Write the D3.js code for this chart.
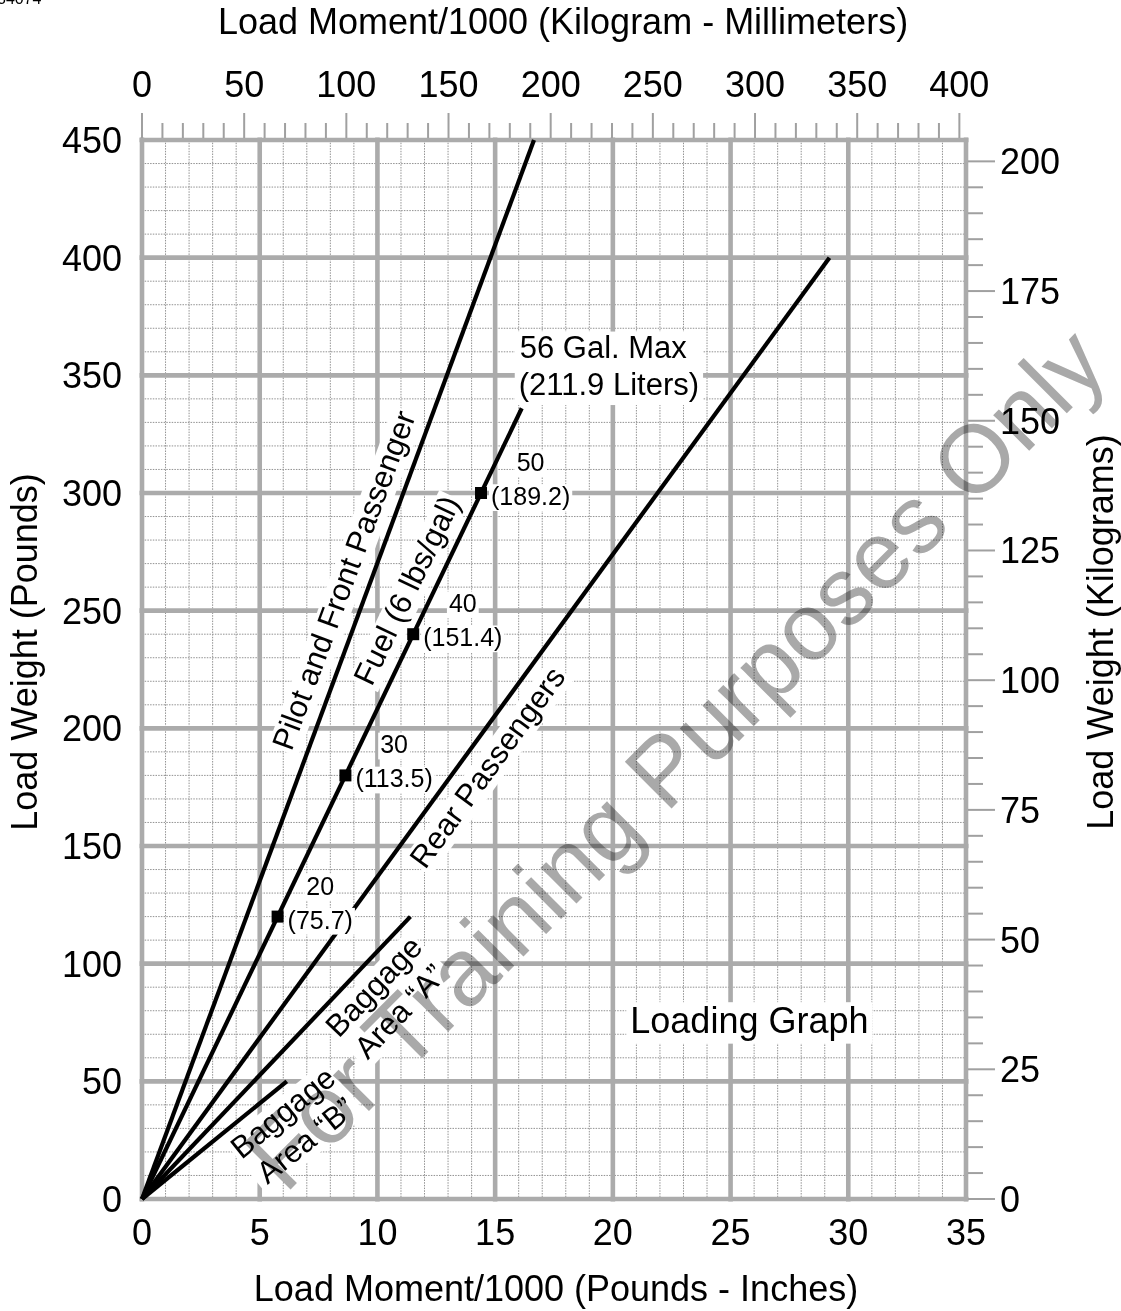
<!DOCTYPE html>
<html><head><meta charset="utf-8">
<script src="https://cdn.jsdelivr.net/npm/d3@7"></script>
<style>
body{margin:0;background:#fff}
svg{display:block}
text{font-family:"Liberation Sans",Arial,Helvetica,sans-serif;fill:#000}
</style>
</head><body>
<svg id="chart" width="1121" height="1311"></svg>
<script>
// ---------- data ----------
const momentTicks = [0,5,10,15,20,25,30,35];            // lb-in /1000
const weightTicks = [0,50,100,150,200,250,300,350,400,450]; // lb
const kgmmTicks = [0,50,100,150,200,250,300,350,400];   // kg-mm /1000
const kgTicks = [0,25,50,75,100,125,150,175,200];       // kg

const lineNames   = ["Pilot and Front Passenger","Fuel","Rear Passengers","Baggage Area A","Baggage Area B"];
const lineWeights = [450, 336, 400, 120, 50];            // end weight (lb)
const lineMoments = [16.65, 16.13, 29.2, 11.4, 6.15];    // end moment (lb-in/1000)

const fuelGallons = ["20","30","40","50"];
const fuelLiters  = ["(75.7)","(113.5)","(151.4)","(189.2)"];
const fuelWeights = [120, 180, 240, 300];
const fuelMoments = [5.76, 8.64, 11.52, 14.4];

const lineLabels   = [["Pilot and Front Passenger"],["Fuel (6 lbs/gal)"],["Rear Passengers"],["Baggage","Area “A”"],["Baggage","Area “B”"]];
const labelMoments = [8.55, 11.22, 14.65, 10.38, 6.45];
const labelWeights = [263, 258.8, 183.6, 85.2, 31.0];

const fuelMaxLabel = ["56 Gal. Max","(211.9 Liters)"];

// ---------- setup ----------
const LBIN_TO_KGMM = 11.521246;
const LB_TO_KG = 0.45359237;
const L = 142, R = 966, T = 140, B = 1199;
const svg = d3.select("#chart");
const x = d3.scaleLinear().domain([0,35]).range([L,R]);
const y = d3.scaleLinear().domain([0,450]).range([B,T]);
const xTop = d3.scaleLinear().domain([0,35*LBIN_TO_KGMM]).range([L,R]);
const yR = d3.scaleLinear().domain([0,450*LB_TO_KG]).range([B,T]);

// corner id (cut off at top edge, as in the original)
svg.append("text").attr("x",-3).attr("y",4).attr("font-size",16).text("34074");

// ---------- grid ----------
const grid = svg.append("g");
const minorX = d3.range(0,35.001,1).filter(v=>v%5!==0);
const minorY = d3.range(0,450.001,10).filter(v=>v%50!==0);
grid.selectAll(".mvx").data(minorX).join("line")
  .attr("x1",d=>x(d)).attr("x2",d=>x(d)).attr("y1",T).attr("y2",B)
  .attr("stroke","#929292").attr("stroke-width",1).attr("stroke-dasharray","1.5 1.2");
grid.selectAll(".mhy").data(minorY).join("line")
  .attr("y1",d=>y(d)).attr("y2",d=>y(d)).attr("x1",L).attr("x2",R)
  .attr("stroke","#929292").attr("stroke-width",1).attr("stroke-dasharray","1.5 1.2");
grid.selectAll(".Mvx").data(momentTicks).join("line")
  .attr("x1",d=>x(d)).attr("x2",d=>x(d)).attr("y1",T-2.5).attr("y2",B+2.5)
  .attr("stroke","#ababab").attr("stroke-width",4.6);
grid.selectAll(".Mhy").data(weightTicks).join("line")
  .attr("y1",d=>y(d)).attr("y2",d=>y(d)).attr("x1",L-2.5).attr("x2",R+2.5)
  .attr("stroke","#ababab").attr("stroke-width",4.6);

// top ticks (kg-mm)
const topMinor = d3.range(0,400.001,10);
svg.append("g").selectAll("line").data(topMinor).join("line")
  .attr("x1",d=>xTop(d)).attr("x2",d=>xTop(d))
  .attr("y1",T-2).attr("y2",d=> d%50===0 ? T-27 : T-17)
  .attr("stroke","#a0a0a0").attr("stroke-width",2);
// right ticks (kg)
const rightMinor = d3.range(0,200.001,5);
svg.append("g").selectAll("line").data(rightMinor).join("line")
  .attr("y1",d=>yR(d)).attr("y2",d=>yR(d))
  .attr("x1",R+2).attr("x2",d=> d%25===0 ? R+29 : R+17)
  .attr("stroke","#a0a0a0").attr("stroke-width",2);

// ---------- axis labels ----------
const FS = 36;
svg.append("g").selectAll("text").data(momentTicks).join("text")
  .attr("x",d=>x(d)).attr("y",1245).attr("text-anchor","middle").attr("font-size",FS).text(d=>d);
svg.append("g").selectAll("text").data(kgmmTicks).join("text")
  .attr("x",d=>xTop(d)).attr("y",97).attr("text-anchor","middle").attr("font-size",FS).text(d=>d);
svg.append("g").selectAll("text").data(weightTicks).join("text")
  .attr("x",122).attr("y",d=>y(d)).attr("dy","0.36em").attr("text-anchor","end").attr("font-size",FS).text(d=>d);
svg.append("g").selectAll("text").data(kgTicks).join("text")
  .attr("x",1000).attr("y",d=>yR(d)).attr("dy","0.36em").attr("text-anchor","start").attr("font-size",FS).text(d=>d);

svg.append("text").attr("x",563).attr("y",34).attr("text-anchor","middle").attr("font-size",FS)
  .text("Load Moment/1000 (Kilogram - Millimeters)");
svg.append("text").attr("x",556).attr("y",1301).attr("text-anchor","middle").attr("font-size",FS)
  .text("Load Moment/1000 (Pounds - Inches)");
svg.append("text").attr("transform","translate(37,652) rotate(-90)").attr("text-anchor","middle").attr("font-size",FS)
  .text("Load Weight (Pounds)");
svg.append("text").attr("transform","translate(1113,632) rotate(-90)").attr("text-anchor","middle").attr("font-size",FS)
  .text("Load Weight (Kilograms)");

// ---------- loading lines ----------
const lines = lineNames.map((n,i)=>({name:n, w:lineWeights[i], m:lineMoments[i]}));
svg.append("g").selectAll("line").data(lines).join("line")
  .attr("x1",x(0)).attr("y1",y(0)).attr("x2",d=>x(d.m)).attr("y2",d=>y(d.w))
  .attr("stroke","#000").attr("stroke-width",4.2);

// ---------- labels with white boxes ----------
function boxedText(parent, pad, fs){
  const g = parent.append("g");
  const rect = g.append("rect").attr("fill","#fff");
  return {g, rect, fit(){
    const bb = g.selectAll("text").nodes().map(n=>n.getBBox());
    const x0=d3.min(bb,b=>b.x)-pad, y0=d3.min(bb,b=>b.y)+0.17*fs-pad;
    const x1=d3.max(bb,b=>b.x+b.width)+pad, y1=d3.max(bb,b=>b.y+b.height)-0.04*fs+pad;
    rect.attr("x",x0).attr("y",y0).attr("width",x1-x0).attr("height",y1-y0);
  }};
}

const labelLayer = svg.append("g");
lineLabels.forEach((lbl,i)=>{
  const ang = Math.atan2(y(0)-y(lines[i].w), x(lines[i].m)-x(0))*180/Math.PI;
  const cx = x(labelMoments[i]), cy = y(labelWeights[i]);
  const b = boxedText(labelLayer, 2, 32);
  b.g.attr("transform",`translate(${cx},${cy}) rotate(${-ang})`);
  const lh = 36, n = lbl.length;
  lbl.forEach((t,j)=>{
    b.g.append("text").attr("x",0).attr("y",(j-(n-1)/2)*lh).attr("dy","0.36em")
      .attr("text-anchor","middle").attr("font-size",31).text(t);
  });
  b.fit();
});

// 56 gal label
{
  const ex = x(lineMoments[1]), ey = y(lineWeights[1]);
  const b = boxedText(labelLayer, 4, 31);
  b.g.append("text").attr("x",ex-2).attr("y",ey-50).attr("font-size",31).text(fuelMaxLabel[0]);
  b.g.append("text").attr("x",ex-3).attr("y",ey-13).attr("font-size",31).text(fuelMaxLabel[1]);
  b.fit();
}

// Loading Graph
{
  const b = boxedText(labelLayer, 4, 36);
  b.g.append("text").attr("x",x(25.8)).attr("y",y(70.5)).attr("text-anchor","middle").attr("font-size",36).text("Loading Graph");
  b.fit();
}

// fuel markers & labels
fuelGallons.forEach((g,i)=>{
  const mx = x(fuelMoments[i]), my = y(fuelWeights[i]);
  const b1 = boxedText(labelLayer, 2, 25);
  const t1 = b1.g.append("text").attr("x",mx+10).attr("y",my+12).attr("font-size",25).text(fuelLiters[i]);
  b1.fit();
  const w = t1.node().getComputedTextLength();
  const b2 = boxedText(labelLayer, 2, 25);
  b2.g.append("text").attr("x",mx+10+w/2).attr("y",my-22).attr("text-anchor","middle").attr("font-size",25).text(g);
  b2.fit();
});
svg.append("g").selectAll("rect").data(fuelGallons.map((g,i)=>({m:fuelMoments[i],w:fuelWeights[i]}))).join("rect")
  .attr("x",d=>x(d.m)-6).attr("y",d=>y(d.w)-6).attr("width",12).attr("height",12).attr("fill","#000");

// ---------- watermark (multiplied over everything) ----------
svg.append("text").attr("transform","translate(285,1195) rotate(-45)")
  .attr("font-size",96).style("fill","#a9a9a9").style("mix-blend-mode","multiply")
  .text("For Training Purposes Only");
</script>
</body></html>
